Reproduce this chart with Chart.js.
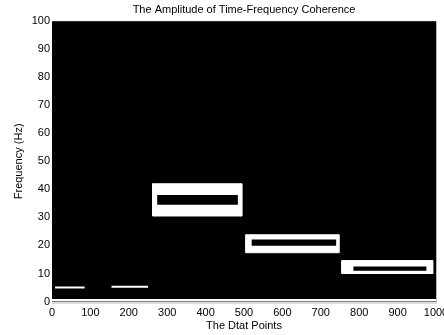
<!DOCTYPE html>
<html>
<head>
<meta charset="utf-8">
<script src="https://cdn.jsdelivr.net/npm/chart.js@4/dist/chart.umd.min.js"></script>
<style>
  html, body { margin: 0; padding: 0; background: #fff; }
  #wrap { width: 444px; height: 335px; }
</style>
</head>
<body>
<div id="wrap"><canvas id="chart"></canvas></div>
<script>
// Coherence blobs (data points on x, Hz on y)
const boxStart = [262, 505, 755];
const boxEnd = [495, 748, 992];
const boxLow = [30.5, 17.4, 10.0];
const boxHigh = [42.0, 23.8, 14.6];
const holeStart = [274, 520, 785];
const holeEnd = [484, 740, 975];
const holeLow = [34.5, 19.9, 11.0];
const holeHigh = [38.0, 22.1, 12.5];

// thin streaks near 5 Hz and along the floor
const segStart = [8, 155, 0];
const segEnd = [85, 250, 1000];
const segFreq = [5.0, 5.3, 0.5];

const xTicks = [0, 100, 200, 300, 400, 500, 600, 700, 800, 900, 1000];
const yTicks = [0, 10, 20, 30, 40, 50, 60, 70, 80, 90, 100];

const FONT = { family: 'Liberation Sans, Arial, sans-serif', size: 11, weight: 'normal' };

function rect(s, e, lo, hi) {
  return [{ x: s, y: lo }, { x: e, y: lo }, { x: e, y: hi }, { x: s, y: hi }, { x: s, y: lo }];
}

const datasets = [];
boxStart.forEach((s, i) => {
  // white ring = white outer shape with a black hole on top
  datasets.push({
    data: rect(s, boxEnd[i], boxLow[i], boxHigh[i]),
    showLine: true, fill: 'shape', backgroundColor: '#ffffff',
    borderColor: '#ffffff', borderWidth: 1, pointRadius: 0, order: 2
  });
  datasets.push({
    data: rect(holeStart[i], holeEnd[i], holeLow[i], holeHigh[i]),
    showLine: true, fill: 'shape', backgroundColor: '#000000',
    borderColor: '#000000', borderWidth: 0, pointRadius: 0, order: 1
  });
});
segStart.forEach((s, i) => {
  datasets.push({
    data: [{ x: s, y: segFreq[i] }, { x: segEnd[i], y: segFreq[i] }],
    showLine: true, borderColor: '#ffffff', borderWidth: 2, pointRadius: 0, order: 0
  });
});

// paint the plot area black before anything else
const blackArea = {
  id: 'blackArea',
  beforeDraw(chart) {
    const { ctx, chartArea: a } = chart;
    ctx.save();
    ctx.fillStyle = '#000';
    ctx.fillRect(a.left, a.top, a.right - a.left, a.bottom - a.top);
    ctx.strokeStyle = '#bbbbbb';
    ctx.lineWidth = 1;
    ctx.beginPath();
    ctx.moveTo(a.right + 0.5, a.top);
    ctx.lineTo(a.right + 0.5, a.bottom + 1);
    ctx.moveTo(a.left, a.bottom + 1.5);
    ctx.lineTo(a.right + 1, a.bottom + 1.5);
    ctx.stroke();
    ctx.restore();
  }
};

new Chart(document.getElementById('chart'), {
  type: 'scatter',
  data: { datasets },
  plugins: [blackArea],
  options: {
    responsive: true,
    maintainAspectRatio: false,
    animation: false,
    layout: { padding: { left: 0, right: 8, top: 0, bottom: 0 } },
    plugins: {
      legend: { display: false },
      tooltip: { enabled: false },
      title: {
        display: true,
        fullSize: false,
        text: 'The Amplitude of Time-Frequency Coherence',
        color: '#000',
        font: FONT,
        padding: { top: 3, bottom: 5 }
      }
    },
    scales: {
      x: {
        type: 'linear',
        min: 0, max: 1000,
        afterBuildTicks: (s) => { s.ticks = xTicks.map(v => ({ value: v })); },
        afterFit: (s) => { s.height = 33.5; s.paddingLeft = 0; s.paddingRight = 0; },
        grid: { display: false, drawTicks: false },
        border: { display: false },
        ticks: { color: '#000', font: FONT, padding: 5, maxRotation: 0, autoSkip: false, callback: (v) => String(v) },
        title: { display: true, text: 'The Dtat Points', color: '#000', font: FONT, padding: { top: 0, bottom: 2 } }
      },
      y: {
        type: 'linear',
        min: 0, max: 100,
        afterBuildTicks: (s) => { s.ticks = yTicks.map(v => ({ value: v })); },
        afterFit: (s) => { s.width = 52; s.paddingTop = 0; s.paddingBottom = 0; },
        grid: { display: false, drawTicks: false },
        border: { display: false },
        ticks: { color: '#000', font: FONT, padding: 2, autoSkip: false, callback: (v) => String(v) },
        title: { display: true, text: 'Frequency (Hz)', color: '#000', font: FONT, padding: { top: 12, bottom: 0 } }
      }
    }
  }
});
</script>
</body>
</html>
